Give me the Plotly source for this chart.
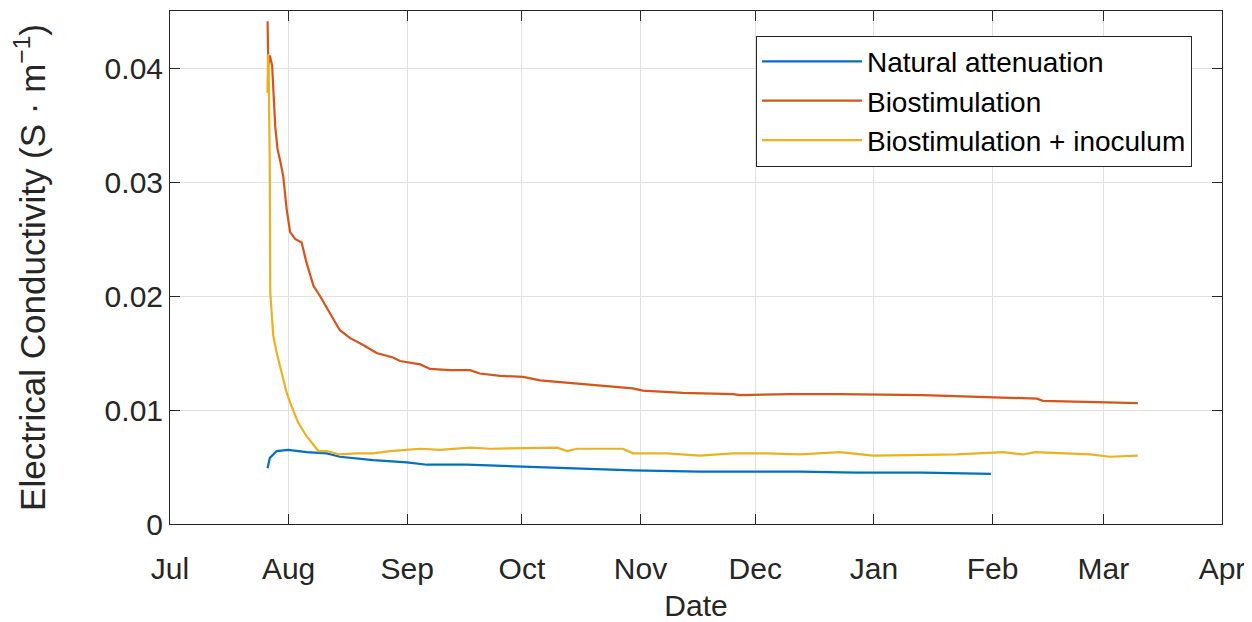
import pandas as pd
import plotly.graph_objects as go

BASE_DATE = "2019-07-01"

# Days since BASE_DATE and conductivity values (S/m)
na_days = [25.5, 26.1, 27.9, 30.9, 35.7, 41.0, 44.4, 53.1, 61.9, 67.2, 77.6, 86.3,
           99.3, 112.4, 121.0, 138.5, 164.7, 179.6, 196.8, 214.6]
na_vals = [0.0049, 0.0058, 0.0064, 0.0065, 0.0063, 0.0062, 0.0059, 0.0056, 0.0054, 0.0052,
           0.0052, 0.0051, 0.0049, 0.0048, 0.0047, 0.0046, 0.0046, 0.0045, 0.0045, 0.0044]

bs_days = [25.5, 25.7, 26.1, 26.7, 27.5, 28.1, 28.9, 29.6, 30.5, 31.4, 32.7, 34.4, 35.7,
           37.5, 39.2, 41.8, 44.4, 47.1, 50.5, 54.0, 58.3, 60.1, 65.4, 68.0, 73.2, 78.4,
           81.0, 86.3, 92.3, 96.7, 103.8, 112.4, 121.0, 123.6, 134.1, 147.2, 149.0, 162.1,
           175.1, 196.8, 214.4, 226.6, 228.2, 240.5, 253.0]
bs_vals = [0.0441, 0.0401, 0.0411, 0.0402, 0.0349, 0.0329, 0.0317, 0.0305, 0.0276, 0.0256,
           0.0250, 0.0247, 0.0229, 0.0209, 0.0200, 0.0185, 0.0170, 0.0163, 0.0157, 0.0150,
           0.0146, 0.0143, 0.0140, 0.0136, 0.0135, 0.0135, 0.0132, 0.0130, 0.0129, 0.0126,
           0.0124, 0.0122, 0.0119, 0.0117, 0.0115, 0.0114, 0.0113, 0.0114, 0.0114, 0.0113,
           0.0111, 0.0110, 0.0108, 0.0107, 0.0106]

bi_days = [25.5, 25.6, 25.8, 26.1, 26.2, 26.6, 27.0, 27.9, 29.2, 30.5, 31.8, 33.5, 35.7,
           37.5, 38.8, 41.0, 44.4, 48.8, 53.1, 57.5, 61.9, 65.4, 70.6, 78.4, 83.7, 94.9,
           101.2, 103.8, 106.4, 118.4, 121.0, 129.9, 138.5, 147.2, 156.1, 164.7, 175.1,
           183.8, 205.7, 217.8, 223.0, 226.1, 240.5, 245.7, 253.0]
bi_vals = [0.0378, 0.0412, 0.0400, 0.0305, 0.0203, 0.0182, 0.0165, 0.0150, 0.0133, 0.0115,
           0.0103, 0.0089, 0.0077, 0.0069, 0.0064, 0.0064, 0.0061, 0.0062, 0.0062, 0.0064,
           0.0065, 0.0066, 0.0065, 0.0067, 0.0066, 0.0067, 0.0067, 0.0064, 0.0066, 0.0066,
           0.0062, 0.0062, 0.0060, 0.0062, 0.0062, 0.0061, 0.0063, 0.0060, 0.0061, 0.0063,
           0.0061, 0.0063, 0.0061, 0.0059, 0.0060]

series_names = ["Natural attenuation", "Biostimulation", "Biostimulation + inoculum"]
series_colors = ["#0072BD", "#D95319", "#EDB120"]

y_tickvals = [0, 0.01, 0.02, 0.03, 0.04]
y_ticktext = ["0", "0.01", "0.02", "0.03", "0.04"]


def to_dates(days):
    base = pd.Timestamp(BASE_DATE)
    return [base + pd.Timedelta(days=d) for d in days]


fig = go.Figure()
for name, color, d, v in zip(series_names, series_colors,
                             [na_days, bs_days, bi_days], [na_vals, bs_vals, bi_vals]):
    fig.add_trace(go.Scatter(x=to_dates(d), y=v, mode="lines", name=name,
                             line=dict(color=color, width=2.2)))

FONT = "Liberation Sans, Arial, sans-serif"
INK = "#262626"
axis_common = dict(
    showline=True, linecolor=INK, linewidth=1, mirror="ticks",
    ticks="inside", ticklen=10, tickcolor=INK, tickwidth=1,
    showgrid=True, gridcolor="#e0e0e0", gridwidth=1, zeroline=False,
    tickfont=dict(family=FONT, size=30, color=INK),
)

# page body has an 8px default margin; figure sized so the plot box lands at 170..1222 x 11..524
fig.update_layout(
    width=1244, height=614,
    margin=dict(l=162, r=30, t=3, b=98),
    paper_bgcolor="white", plot_bgcolor="white",
    font=dict(family=FONT, color=INK),
    xaxis=dict(type="date", range=["2019-07-01", "2020-04-01"],
               tick0="2019-07-01", dtick="M1", tickformat="%b",
               ticklabelstandoff=18,
               title=dict(text="Date", font=dict(family=FONT, size=30, color=INK), standoff=10),
               **axis_common),
    yaxis=dict(range=[0, 0.045], tickvals=y_tickvals, ticktext=y_ticktext,
               automargin=False,
               title=dict(text="Electrical Conductivity (S · m<sup>−1</sup>)",
                          font=dict(family=FONT, size=35, color=INK), standoff=52),
               **axis_common),
    legend=dict(x=0.557, y=0.952, xanchor="left", yanchor="top",
                bgcolor="white", bordercolor=INK, borderwidth=1,
                font=dict(family=FONT, size=28, color="black"),
                itemwidth=100, tracegroupgap=0),
    showlegend=True,
)

fig.write_html("out.html")
